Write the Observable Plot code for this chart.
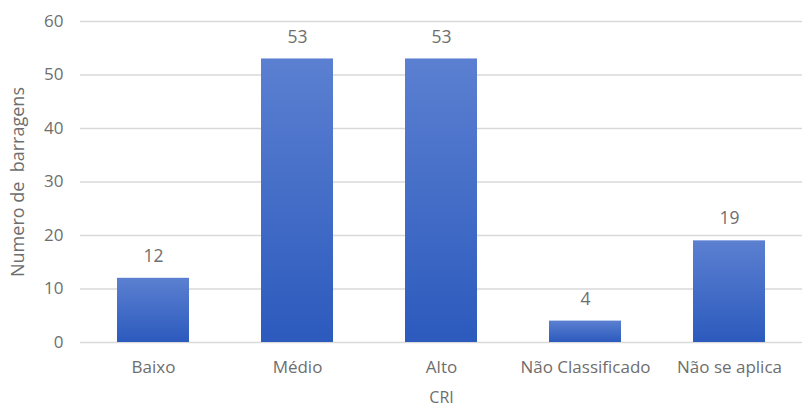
<!DOCTYPE html>
<html>
<head>
<meta charset="utf-8">
<script src="https://cdn.jsdelivr.net/npm/d3@7"></script>
<script src="https://cdn.jsdelivr.net/npm/@observablehq/plot@0.6"></script>
<style>
  html, body { margin: 0; padding: 0; background: #fff; }
  #chart svg { display: block; }
</style>
</head>
<body>
<div id="chart"></div>
<script>
const categories = ["Baixo", "Médio", "Alto", "Não Classificado", "Não se aplica"];
const values = [12, 53, 53, 4, 19];
const yTicks = [0, 10, 20, 30, 40, 50, 60];
const yLabel = "Numero de  barragens";
const xLabel = "CRI";

const data = categories.map((c, i) => ({category: c, value: values[i]}));
const textColor = "#6e6e6e";
const font = "'Open Sans', Lato, sans-serif";

const gradient = () => {
  const ns = "http://www.w3.org/2000/svg";
  const defs = document.createElementNS(ns, "defs");
  const lg = document.createElementNS(ns, "linearGradient");
  lg.setAttribute("id", "barGrad");
  lg.setAttribute("x1", "0"); lg.setAttribute("y1", "0");
  lg.setAttribute("x2", "0"); lg.setAttribute("y2", "1");
  [["0%", "#5b80d1"], ["100%", "#2c5abd"]].forEach(([o, c]) => {
    const s = document.createElementNS(ns, "stop");
    s.setAttribute("offset", o); s.setAttribute("stop-color", c);
    lg.appendChild(s);
  });
  defs.appendChild(lg);
  return defs;
};

const chart = Plot.plot({
  width: 802,
  height: 410,
  marginLeft: 80,
  marginRight: 0,
  marginTop: 21,
  marginBottom: 68,
  style: {fontFamily: font, fontSize: "17px", color: textColor, background: "#fff"},
  x: {domain: categories, paddingInner: 0.5, paddingOuter: 0.25, label: null, tickSize: 0, tickPadding: 18},
  y: {domain: [0, 60], ticks: yTicks, label: null, tickSize: 0, tickPadding: 17, grid: false},
  marks: [
    gradient,
    Plot.ruleY(yTicks, {stroke: "#d9d9d9", strokeWidth: 1.5}),
    Plot.barY(data, {x: "category", y: "value", fill: "url(#barGrad)"}),
    Plot.text(data, {x: "category", y: "value", text: d => String(d.value), dy: -22, fill: textColor, fontSize: 17.5}),
    Plot.text([yLabel], {frameAnchor: "left", textAnchor: "middle", dx: -62, rotate: -90, fill: textColor, fontSize: 18}),
    Plot.text([xLabel], {frameAnchor: "bottom", dy: 60, fill: textColor, fontSize: 16})
  ]
});
document.getElementById("chart").appendChild(chart);
</script>
</body>
</html>
